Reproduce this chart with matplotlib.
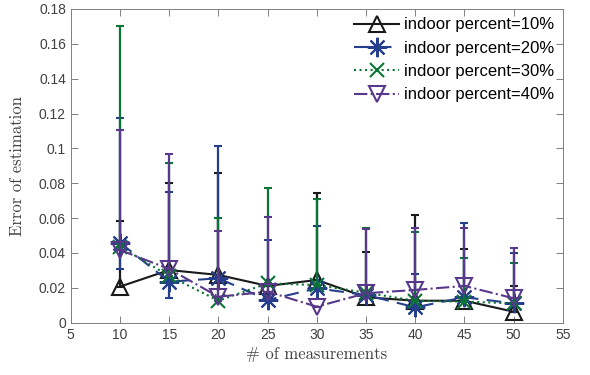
import numpy as np
import matplotlib.pyplot as plt
from matplotlib.lines import Line2D
from matplotlib.ticker import FuncFormatter

measurements = [10, 15, 20, 25, 30, 35, 40, 45, 50]
labels = ['indoor percent=10%', 'indoor percent=20%',
          'indoor percent=30%', 'indoor percent=40%']

# mean error per series
err_10 = [0.0207, 0.0302, 0.0274, 0.0211, 0.0245, 0.0146, 0.0126, 0.0126, 0.0063]
err_20 = [0.0459, 0.0235, 0.0255, 0.0130, 0.0197, 0.0159, 0.0088, 0.0146, 0.0111]
err_30 = [0.0436, 0.0268, 0.0126, 0.0226, 0.0216, 0.0172, 0.0126, 0.0121, 0.0111]
err_40 = [0.0417, 0.0308, 0.0149, 0.0178, 0.0092, 0.0169, 0.0188, 0.0211, 0.0140]

# upper ends of the error bars
top_10 = [0.0584, 0.0803, 0.0859, 0.0211, 0.0744, 0.0407, 0.0618, 0.0425, 0.0212]
top_20 = [0.1176, 0.0748, 0.1014, 0.0473, 0.0553, 0.0159, 0.0280, 0.0570, 0.0398]
top_30 = [0.1704, 0.0918, 0.0603, 0.0775, 0.0712, 0.0545, 0.0522, 0.0369, 0.0344]
top_40 = [0.1106, 0.0970, 0.0528, 0.0605, 0.0092, 0.0536, 0.0545, 0.0545, 0.0427]

# lower ends of the error bars
low_10 = [0.0207, 0.0302, 0.0274, 0.0211, 0.0245, 0.0146, 0.0126, 0.0126, 0.0063]
low_20 = [0.0306, 0.0144, 0.0255, 0.0130, 0.0197, 0.0159, 0.0088, 0.0146, 0.0111]
low_30 = [0.0436, 0.0268, 0.0126, 0.0226, 0.0216, 0.0172, 0.0126, 0.0121, 0.0111]
low_40 = [0.0417, 0.0308, 0.0149, 0.0178, 0.0092, 0.0169, 0.0188, 0.0211, 0.0140]

series = [
    (err_10, low_10, top_10, '#1a1a1a', '-', '^', 12),
    (err_20, low_20, top_20, '#263f8c', (0, (7, 4)), (8, 2, 0), 14),
    (err_30, low_30, top_30, '#0a7336', ':', 'x', 10),
    (err_40, low_40, top_40, '#58388a', '-.', 'v', 12),
]

fig = plt.figure(figsize=(5.9, 3.75), dpi=100)
ax = fig.add_axes([0.120, 0.1395, 0.834, 0.8365])

x = np.array(measurements)
handles = []
for i, (mean, low, top, col, ls, mk, ms) in enumerate(series):
    mean = np.array(mean)
    yerr = [mean - np.array(low), np.array(top) - mean]
    ax.errorbar(x, mean, yerr=yerr, color=col, ls=ls, lw=1.5,
                marker=mk, ms=ms, mfc='none', mec=col, mew=1.5,
                capsize=3, capthick=1.5, elinewidth=1.6, zorder=2 + i)
    handles.append(Line2D([], [], color=col, ls=ls, lw=1.5, marker=mk, ms=ms,
                          mfc='none', mec=col, mew=1.5, label=labels[i]))

ax.set_xlim(5, 55)
ax.set_ylim(0, 0.18)
ax.set_xticks(np.arange(5, 56, 5))
ax.set_yticks(np.arange(0, 0.181, 0.02))
ax.yaxis.set_major_formatter(FuncFormatter(lambda v, p: '%g' % round(v, 2)))

for s in ax.spines.values():
    s.set_color('#808080')
    s.set_linewidth(0.7)
ax.tick_params(direction='in', top=True, right=True, length=5, width=0.7,
               colors='#808080', labelsize=10, labelcolor='#404040')
for t in ax.get_xticklabels() + ax.get_yticklabels():
    t.set_family('Liberation Sans')

ax.set_xlabel('# of measurements', family='cmr10', fontsize=12,
              color='#404040', labelpad=4)
ax.set_ylabel('Error of estimation', family='cmr10', fontsize=12,
              color='#404040', labelpad=10)

ax.legend(handles=handles, loc='upper right', frameon=False,
          prop={'family': 'Liberation Sans', 'size': 12},
          handlelength=2.7, handletextpad=0.3, labelspacing=0.5,
          borderaxespad=0.1)

fig.savefig('out.png', dpi=100)
